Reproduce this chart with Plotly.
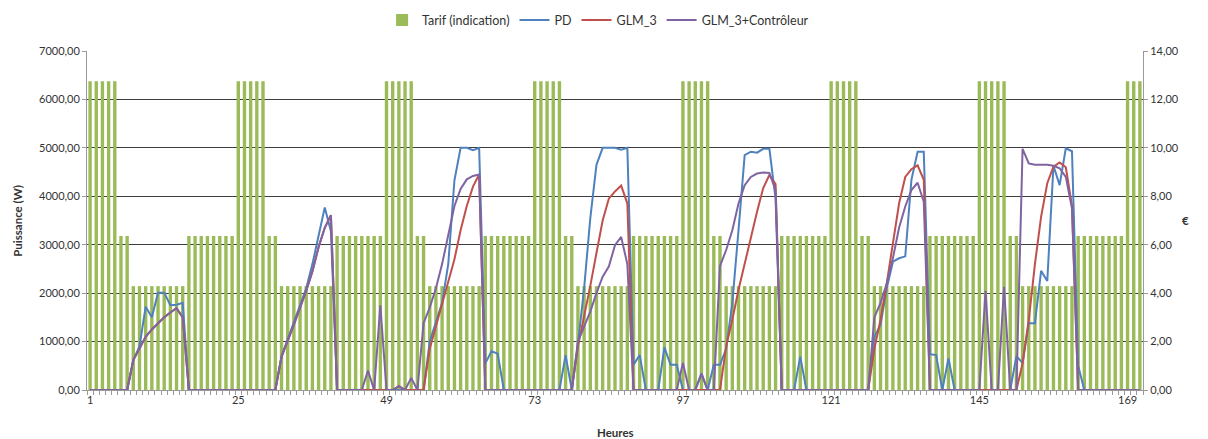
import plotly.graph_objects as go

# ---------------- data ----------------
hours = list(range(1, 172))

# Tariff (€) per hour
tarif = [
    12.75, 12.75, 12.75, 12.75, 12.75, 6.36, 6.36, 4.29, 4.29, 4.29, 4.29, 4.29, 4.29, 4.29, 4.29, 4.29, 6.36, 6.36, 6.36, 6.36, 6.36, 6.36, 6.36, 6.36,
    12.75, 12.75, 12.75, 12.75, 12.75, 6.36, 6.36, 4.29, 4.29, 4.29, 4.29, 4.29, 4.29, 4.29, 4.29, 4.29, 6.36, 6.36, 6.36, 6.36, 6.36, 6.36, 6.36, 6.36,
    12.75, 12.75, 12.75, 12.75, 12.75, 6.36, 6.36, 4.29, 4.29, 4.29, 4.29, 4.29, 4.29, 4.29, 4.29, 4.29, 6.36, 6.36, 6.36, 6.36, 6.36, 6.36, 6.36, 6.36,
    12.75, 12.75, 12.75, 12.75, 12.75, 6.36, 6.36, 4.29, 4.29, 4.29, 4.29, 4.29, 4.29, 4.29, 4.29, 4.29, 6.36, 6.36, 6.36, 6.36, 6.36, 6.36, 6.36, 6.36,
    12.75, 12.75, 12.75, 12.75, 12.75, 6.36, 6.36, 4.29, 4.29, 4.29, 4.29, 4.29, 4.29, 4.29, 4.29, 4.29, 6.36, 6.36, 6.36, 6.36, 6.36, 6.36, 6.36, 6.36,
    12.75, 12.75, 12.75, 12.75, 12.75, 6.36, 6.36, 4.29, 4.29, 4.29, 4.29, 4.29, 4.29, 4.29, 4.29, 4.29, 6.36, 6.36, 6.36, 6.36, 6.36, 6.36, 6.36, 6.36,
    12.75, 12.75, 12.75, 12.75, 12.75, 6.36, 6.36, 4.29, 4.29, 4.29, 4.29, 4.29, 4.29, 4.29, 4.29, 4.29, 6.36, 6.36, 6.36, 6.36, 6.36, 6.36, 6.36, 6.36,
    12.75, 12.75, 12.75,
]

# PD (W)
pd_w = [
    0, 0, 0, 0, 0, 0, 0, 620, 900, 1720, 1500, 2010, 2010, 1750, 1760, 1800, 0, 0, 0, 0, 0, 0, 0, 0,
    0, 0, 0, 0, 0, 0, 0, 690, 1060, 1400, 1750, 2100, 2600, 3170, 3770, 3280, 0, 0, 0, 0, 0, 0, 0, 0,
    0, 0, 0, 0, 0, 0, 0, 1000, 1400, 1800, 2600, 4330, 5000, 5000, 4950, 5000, 550, 800, 750, 0, 0, 0, 0, 0,
    0, 0, 0, 0, 0, 720, 0, 950, 2100, 3550, 4650, 5000, 5000, 5000, 4960, 5000, 520, 720, 0, 0, 0, 880, 520, 520,
    0, 0, 0, 340, 0, 520, 520, 850, 1800, 3300, 4850, 4920, 4900, 4980, 4980, 3950, 0, 0, 0, 690, 0, 0, 0, 0,
    0, 0, 0, 0, 0, 0, 0, 1100, 1350, 2100, 2650, 2720, 2760, 4340, 4920, 4920, 740, 720, 0, 650, 0, 0, 0, 0,
    0, 0, 0, 0, 0, 0, 700, 560, 1380, 1380, 2460, 2250, 4630, 4230, 4990, 4930, 500, 0, 0, 0, 0, 0, 0, 0,
    0, 0, 0,
]

# GLM_3 (W)
glm3 = [
    0, 0, 0, 0, 0, 0, 0, 620, 850, 1100, 1250, 1380, 1500, 1600, 1690, 1500, 0, 0, 0, 0, 0, 0, 0, 0,
    0, 0, 0, 0, 0, 0, 0, 690, 1000, 1350, 1700, 2050, 2450, 2950, 3350, 3610, 0, 0, 0, 0, 0, 0, 0, 0,
    0, 0, 80, 0, 0, 0, 0, 850, 1300, 1800, 2250, 2700, 3300, 3800, 4200, 4450, 0, 0, 0, 0, 0, 0, 0, 0,
    0, 0, 0, 0, 0, 0, 0, 900, 1500, 2150, 2830, 3500, 3950, 4100, 4220, 3850, 0, 0, 0, 0, 0, 0, 0, 0,
    0, 0, 0, 0, 0, 0, 0, 900, 1450, 2070, 2620, 3170, 3680, 4170, 4440, 4250, 0, 0, 0, 0, 0, 0, 0, 0,
    0, 0, 0, 0, 0, 0, 0, 850, 1450, 2200, 3000, 3850, 4400, 4560, 4640, 4340, 0, 0, 0, 0, 0, 0, 0, 0,
    0, 0, 0, 0, 0, 0, 0, 550, 1450, 2600, 3580, 4270, 4610, 4700, 4600, 3800, 0, 0, 0, 0, 0, 0, 0, 0,
    0, 0, 0,
]

# GLM_3+Contrôleur (W)
glm3_ctrl = [
    0, 0, 0, 0, 0, 0, 0, 620, 850, 1100, 1250, 1380, 1500, 1600, 1690, 1500, 0, 0, 0, 0, 0, 0, 0, 0,
    0, 0, 0, 0, 0, 0, 0, 690, 1000, 1350, 1700, 2050, 2450, 2950, 3350, 3610, 0, 0, 0, 0, 0, 400, 0, 1750,
    0, 0, 80, 0, 250, 0, 1380, 1700, 2100, 2600, 3200, 3800, 4150, 4350, 4420, 4450, 0, 0, 0, 0, 0, 0, 0, 0,
    0, 0, 0, 0, 0, 0, 0, 1000, 1310, 1620, 2000, 2340, 2550, 2990, 3160, 2600, 0, 0, 0, 0, 0, 0, 0, 0,
    560, 0, 0, 340, 0, 0, 2560, 2890, 3300, 3850, 4230, 4400, 4470, 4490, 4480, 4130, 0, 0, 0, 0, 0, 0, 0, 0,
    0, 0, 0, 0, 0, 0, 0, 1500, 1800, 2200, 2720, 3350, 3790, 4130, 4280, 3890, 0, 0, 0, 0, 0, 0, 0, 0,
    0, 2050, 0, 0, 2130, 0, 0, 4980, 4680, 4650, 4650, 4650, 4630, 4580, 4400, 3750, 0, 0, 0, 0, 0, 0, 0, 0,
    0, 0, 0,
]

x_tick_labels = [1, 25, 49, 73, 97, 121, 145, 169]

# ---------------- figure ----------------
FONT = "Lato"
TXT = "#333333"
AXIS_GREY = "#9a9a9a"

fig = go.Figure()
fig.add_trace(go.Bar(x=hours, y=tarif, name="Tarif (indication)",
                     marker=dict(color="#9BBB59", line=dict(width=0)), yaxis="y"))
fig.add_trace(go.Scatter(x=hours, y=pd_w, name="PD", mode="lines",
                         line=dict(color="#4F81BD", width=2), yaxis="y2"))
fig.add_trace(go.Scatter(x=hours, y=glm3, name="GLM_3", mode="lines",
                         line=dict(color="#C0504D", width=2), yaxis="y2"))
fig.add_trace(go.Scatter(x=hours, y=glm3_ctrl, name="GLM_3+Contrôleur", mode="lines",
                         line=dict(color="#8064A2", width=2), yaxis="y2"))

fig.update_layout(
    width=1208, height=439,
    margin=dict(l=87, r=65, t=51, b=49, autoexpand=False),
    paper_bgcolor="white", plot_bgcolor="white",
    separators=", ",
    font=dict(family=FONT, size=11, color=TXT),
    bargap=0.45,
    showlegend=True,
    legend=dict(orientation="h", x=0.484, xanchor="center", y=1.09, yanchor="middle",
                font=dict(family=FONT, size=12.5, color=TXT), itemwidth=30,
                tracegroupgap=0, bgcolor="rgba(0,0,0,0)"),
    xaxis=dict(range=[0.5, 171.5], tickmode="array", tickvals=x_tick_labels,
               ticktext=[str(v) for v in x_tick_labels],
               ticks="", showgrid=False, zeroline=False,
               showline=True, linecolor=AXIS_GREY, linewidth=1,
               tickfont=dict(family=FONT, size=11, color=TXT),
               minor=dict(tickmode="linear", tick0=0.5, dtick=1, ticks="outside",
                          ticklen=4, tickcolor=AXIS_GREY, showgrid=False)),
    yaxis=dict(side="right", range=[0, 14], dtick=2, tickformat=".2f",
               showgrid=True, gridcolor="#3c3c3c", gridwidth=1, zeroline=False,
               showline=True, linecolor=AXIS_GREY, ticks="outside", ticklen=4,
               tickcolor=AXIS_GREY,
               tickfont=dict(family=FONT, size=11, color=TXT)),
    yaxis2=dict(side="left", overlaying="y", range=[0, 7000], dtick=1000,
                tickformat=".2f", showgrid=False, zeroline=False,
                showline=True, linecolor=AXIS_GREY, ticks="outside", ticklen=4,
                tickcolor=AXIS_GREY,
                tickfont=dict(family=FONT, size=11, color=TXT)),
    annotations=[
        dict(text="<b>Puissance (W)</b>", xref="paper", yref="paper", x=-0.066, y=0.5,
             textangle=-90, showarrow=False, font=dict(family=FONT, size=11.5, color=TXT),
             xanchor="center", yanchor="middle"),
        dict(text="<b>Heures</b>", xref="paper", yref="paper", x=0.5, y=-0.125,
             showarrow=False, font=dict(family=FONT, size=11.5, color=TXT),
             xanchor="center", yanchor="middle"),
        dict(text="<b>€</b>", xref="paper", yref="paper", x=1.04, y=0.5,
             showarrow=False, font=dict(family=FONT, size=11.5, color=TXT),
             xanchor="center", yanchor="middle"),
    ],
)

fig.write_html("out.html", config={"displayModeBar": False},
               post_script="document.body.style.margin='0px';document.body.style.padding='0px';")
